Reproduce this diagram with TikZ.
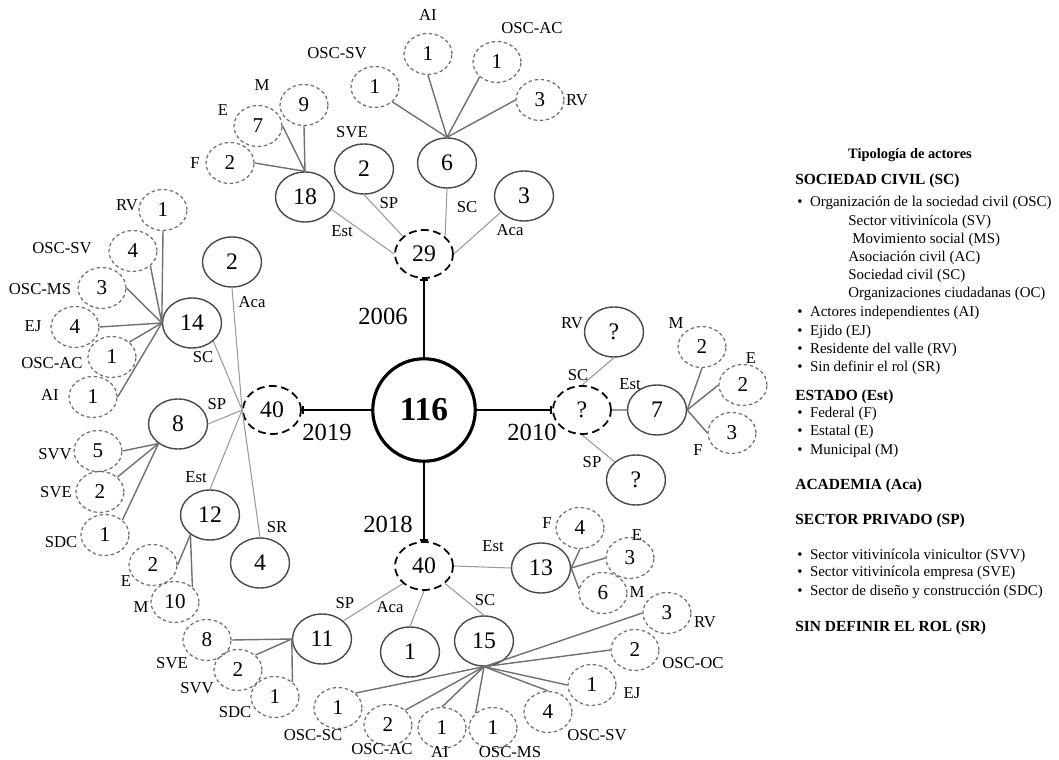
\documentclass[tikz,border=0pt]{standalone}
\usepackage{fontspec}
\setmainfont{Liberation Serif}
\usepackage{xcolor}
\usetikzlibrary{arrows.meta, shapes.geometric}
\definecolor{edgegray}{HTML}{9A9A9A}
\definecolor{subgray}{HTML}{707070}
\definecolor{actorline}{HTML}{4A4A4A}

\begin{document}
\begin{tikzpicture}[
    x=0.02cm, y=-0.02cm,
    hub/.style={draw, ellipse, line width=1pt, dash pattern=on 4.5pt off 2.5pt, minimum width=1.16cm, minimum height=0.96cm, inner sep=0pt, font=\fontsize{13.5}{15}\selectfont},
    actor/.style={draw=actorline, ellipse, line width=0.8pt, minimum width=1.18cm, minimum height=1.0cm, inner sep=0pt, font=\fontsize{13.5}{15}\selectfont},
    sub/.style={draw=subgray, ellipse, line width=0.7pt, dash pattern=on 2pt off 1.5pt, minimum width=0.96cm, minimum height=0.82cm, inner sep=0pt, font=\fontsize{12}{14}\selectfont},
    lbl/.style={font=\fontsize{9.5}{11}\selectfont, inner sep=0pt},
    yr/.style={font=\fontsize{14}{16}\selectfont, inner sep=0pt},
    link/.style={draw=edgegray, line width=0.6pt},
    sublink/.style={draw=subgray, line width=0.8pt},
    year/.style={line width=1.3pt, -{Bar[width=5pt]}},
    lghead/.style={anchor=west, inner sep=0pt, font=\fontsize{8.8}{10}\selectfont\bfseries},
    lgtext/.style={anchor=west, inner sep=0pt, font=\fontsize{8.5}{10}\selectfont},
]
\useasboundingbox (0,0) rectangle (1059,760);

% Total and the four year hubs
\node[draw, circle, line width=1.8pt, minimum size=2.05cm, inner sep=0pt, font=\fontsize{19}{21}\selectfont\bfseries] (total) at (424,410) {116};
\node[hub] (h06) at (424,254) {29};
\node[hub] (h19) at (272,410) {40};
\node[hub] (h10) at (582,410) {?};
\node[hub] (h18) at (424,566) {40};
\draw[year] (total.north) -- (h06.south);
\draw[year] (total.west) -- (h19.east);
\draw[year] (total.east) -- (h10.west);
\draw[year] (total.south) -- (h18.north);
\node[yr] (y06) at (383,316) {2006};
\node[yr] (y19) at (327,432) {2019};
\node[yr] (y10) at (532,432) {2010};
\node[yr] (y18) at (388,524) {2018};

% 2006
\node[actor] (t18) at (305,197) {18};
\node[actor] (tsve) at (364,169) {2};
\node[actor] (tsc) at (447,163) {6};
\node[actor] (taca) at (524,196) {3};
\draw[link] (h06.west) -- (t18.-25);
\draw[link] (h06.140) -- (tsve.south);
\draw[link] (h06.north east) -- (tsc.south);
\draw[link] (h06.east) -- (taca.215);
\node[lbl] (lt18) at (342,231) {Est};
\node[lbl] (ltsp) at (389,203) {SP};
\node[lbl] (ltsc) at (467,207) {SC};
\node[lbl] (ltaca) at (510,230) {Aca};
\node[lbl] (ltsve) at (352,132) {SVE};

\node[sub] (tf) at (230,163) {2};
\node[sub] (te) at (258,126) {7};
\node[sub] (tm) at (304,105) {9};
\draw[sublink] (t18.north) -- (tf.east);
\draw[sublink] (t18.north) -- (te.east);
\draw[sublink] (t18.north) -- (tm.south);
\node[lbl] (ltf) at (195,163) {F};
\node[lbl] (lte) at (223,110) {E};
\node[lbl] (ltm) at (262,85) {M};

\node[sub] (tsv) at (375,87) {1};
\node[sub] (tai) at (428,54) {1};
\node[sub] (tac) at (497,62) {1};
\node[sub] (trv) at (540,100) {3};
\draw[sublink] (tsc.north) -- (tsv.south east);
\draw[sublink] (tsc.north) -- (tai.south);
\draw[sublink] (tsc.north) -- (tac.south west);
\draw[sublink] (tsc.north) -- (trv.west);
\node[lbl] (ltsv) at (337,53) {OSC-SV};
\node[lbl] (ltai) at (428,15) {AI};
\node[lbl] (ltac) at (532,28) {OSC-AC};
\node[lbl] (ltrv) at (577,100) {RV};

% 2019
\node[actor] (laca) at (232,262) {2};
\node[actor] (l14) at (192,323) {14};
\node[actor] (l8) at (178,424) {8};
\node[actor] (l12) at (210,515) {12};
\node[actor] (lsr) at (260,563) {4};
\draw[link] (h19.west) -- (laca.south);
\draw[link] (h19.west) -- (l14.south east);
\draw[link] (h19.west) -- (l8.east);
\draw[link] (h19.west) -- (l12.north);
\draw[link] (h19.west) -- (lsr.north);
\node[lbl] (llaca) at (252,302) {Aca};
\node[lbl] (ll14) at (203,357) {SC};
\node[lbl] (ll8) at (217,404) {SP};
\node[lbl] (ll12) at (196,477) {Est};
\node[lbl] (llsr) at (277,527) {SR};

\node[sub] (lrv) at (163,210) {1};
\node[sub] (lsv) at (133,251) {4};
\node[sub] (lms) at (102,288) {3};
\node[sub] (lej) at (75,327) {4};
\node[sub] (lac) at (112,357) {1};
\node[sub] (lai) at (93,397) {1};
\draw[sublink] (l14.west) -- (lrv.south);
\draw[sublink] (l14.west) -- (lsv.south east);
\draw[sublink] (l14.west) -- (lms.east);
\draw[sublink] (l14.west) -- (lej.east);
\draw[sublink] (l14.west) -- (lac.north east);
\draw[sublink] (l14.west) -- (lai.east);
\node[lbl] (llrv) at (127,205) {RV};
\node[lbl] (llsv) at (62,248) {OSC-SV};
\node[lbl] (llms) at (40,289) {OSC-MS};
\node[lbl] (llej) at (33,326) {EJ};
\node[lbl] (llac) at (52,363) {OSC-AC};
\node[lbl] (llai) at (50,395) {AI};

\node[sub] (lsvv) at (98,451) {5};
\node[sub] (lsve) at (100,492) {2};
\node[sub] (lsdc) at (105,535) {1};
\draw[sublink] (l8.225) -- (lsvv.east);
\draw[sublink] (l8.225) -- (lsve.north east);
\draw[sublink] (l8.225) -- (lsdc.north east);
\node[lbl] (llsvv) at (55,454) {SVV};
\node[lbl] (llsve) at (56,492) {SVE};
\node[lbl] (llsdc) at (61,542) {SDC};

\node[sub] (le) at (153,565) {2};
\node[sub] (lm) at (175,602) {10};
\draw[sublink] (l12.225) -- (le.east);
\draw[sublink] (l12.225) -- (lm.north east);
\node[lbl] (lle) at (126,581) {E};
\node[lbl] (llm) at (141,607) {M};

% 2010
\node[actor] (rrv) at (614,332) {?};
\node[actor] (r7) at (657,410) {7};
\node[actor] (rsp) at (636,480) {?};
\draw[link] (h10.north) -- (rrv.south);
\draw[link] (h10.east) -- (r7.west);
\draw[link] (h10.south) -- (rsp.north west);
\node[lbl] (lrrv) at (572,323) {RV};
\node[lbl] (lrsc) at (578,375) {SC};
\node[lbl] (lr7) at (630,384) {Est};
\node[lbl] (lrsp) at (592,462) {SP};

\node[sub] (rm) at (702,347) {2};
\node[sub] (re) at (743,385) {2};
\node[sub] (rf) at (732,433) {3};
\draw[sublink] (r7.east) -- (rm.south);
\draw[sublink] (r7.east) -- (re.west);
\draw[sublink] (r7.east) -- (rf.west);
\node[lbl] (lrm) at (676,323) {M};
\node[lbl] (lre) at (751,358) {E};
\node[lbl] (lrf) at (698,450) {F};

% 2018
\node[actor] (b13) at (541,568) {13};
\node[actor] (b15) at (484,641) {15};
\node[actor] (baca) at (410,652) {1};
\node[actor] (b11) at (322,639) {11};
\draw[link] (h18.east) -- (b13.west);
\draw[link] (h18.south east) -- (b15.north);
\draw[link] (h18.south) -- (baca.north);
\draw[link] (h18.south west) -- (b11.north east);
\node[lbl] (lb13) at (493,546) {Est};
\node[lbl] (lb15) at (485,600) {SC};
\node[lbl] (lbaca) at (390,607) {Aca};
\node[lbl] (lb11) at (345,603) {SP};

\node[sub] (bf) at (580,528) {4};
\node[sub] (be) at (630,558) {3};
\node[sub] (bm) at (603,593) {6};
\draw[sublink] (b13.east) -- (bf.south);
\draw[sublink] (b13.east) -- (be.west);
\draw[sublink] (b13.east) -- (bm.170);
\node[lbl] (lbf) at (547,523) {F};
\node[lbl] (lbe) at (637,535) {E};
\node[lbl] (lbm) at (637,592) {M};

\node[sub] (brv) at (667,613) {3};
\node[sub] (boc) at (635,650) {2};
\node[sub] (bej) at (592,685) {1};
\node[sub] (bsv) at (548,712) {4};
\node[sub] (bms) at (493,728) {1};
\node[sub] (bai) at (442,728) {1};
\node[sub] (bac) at (388,725) {2};
\node[sub] (bsc) at (338,708) {1};
\draw[sublink] (b15.south) -- (brv.west);
\draw[sublink] (b15.south) -- (boc.west);
\draw[sublink] (b15.south) -- (bej.west);
\draw[sublink] (b15.south) -- (bsv.north);
\draw[sublink] (b15.south) -- (bms.north west);
\draw[sublink] (b15.south) -- (bai.north);
\draw[sublink] (b15.south) -- (bac.north east);
\draw[sublink] (b15.south) -- (bsc.north east);
\node[lbl] (lbrv) at (705,622) {RV};
\node[lbl] (lboc) at (693,663) {OSC-OC};
\node[lbl] (lbej) at (632,693) {EJ};
\node[lbl] (lbsv) at (597,735) {OSC-SV};
\node[lbl] (lbms) at (510,752) {OSC-MS};
\node[lbl] (lbai) at (440,752) {AI};
\node[lbl] (lbac) at (382,749) {OSC-AC};
\node[lbl] (lbsc) at (313,735) {OSC-SC};

\node[sub] (bsve) at (207,640) {8};
\node[sub] (bsvv) at (238,670) {2};
\node[sub] (bsdc) at (275,697) {1};
\draw[sublink] (b11.west) -- (bsve.east);
\draw[sublink] (b11.west) -- (bsvv.north east);
\draw[sublink] (b11.west) -- (bsdc.north east);
\node[lbl] (lbsve) at (172,663) {SVE};
\node[lbl] (lbsvv) at (197,688) {SVV};
\node[lbl] (lbsdc) at (235,712) {SDC};

% Legend
\node[inner sep=0pt, font=\fontsize{8.2}{10}\selectfont\bfseries] (lg0) at (910,155) {Tipología de actores};
\node[lghead] (lg1) at (795,181) {SOCIEDAD CIVIL (SC)};
\node[lgtext] (lg2) at (797,203) {\textbullet\enspace Organización de la sociedad civil (OSC)};
\node[lgtext] (lg3) at (848,222) {Sector vitivinícola (SV)};
\node[lgtext] (lg4) at (852,240) {Movimiento social (MS)};
\node[lgtext] (lg5) at (848,258) {Asociación civil (AC)};
\node[lgtext] (lg6) at (848,276) {Sociedad civil (SC)};
\node[lgtext] (lg7) at (848,294) {Organizaciones ciudadanas (OC)};
\node[lgtext] (lg8) at (797,313) {\textbullet\enspace Actores independientes (AI)};
\node[lgtext] (lg9) at (797,332) {\textbullet\enspace Ejido (EJ)};
\node[lgtext] (lg10) at (797,350) {\textbullet\enspace Residente del valle (RV)};
\node[lgtext] (lg11) at (797,368) {\textbullet\enspace Sin definir el rol (SR)};
\node[lghead] (lg12) at (795,397) {ESTADO (Est)};
\node[lgtext] (lg13) at (797,414) {\textbullet\enspace Federal (F)};
\node[lgtext] (lg14) at (797,432) {\textbullet\enspace Estatal (E)};
\node[lgtext] (lg15) at (797,451) {\textbullet\enspace Municipal (M)};
\node[lghead] (lg16) at (795,486) {ACADEMIA (Aca)};
\node[lghead] (lg17) at (795,521) {SECTOR PRIVADO (SP)};
\node[lgtext] (lg18) at (797,556) {\textbullet\enspace Sector vitivinícola vinicultor (SVV)};
\node[lgtext] (lg19) at (797,573) {\textbullet\enspace Sector vitivinícola empresa (SVE)};
\node[lgtext] (lg20) at (797,592) {\textbullet\enspace Sector de diseño y construcción (SDC)};
\node[lghead] (lg21) at (795,628) {SIN DEFINIR EL ROL (SR)};
\end{tikzpicture}
\end{document}
